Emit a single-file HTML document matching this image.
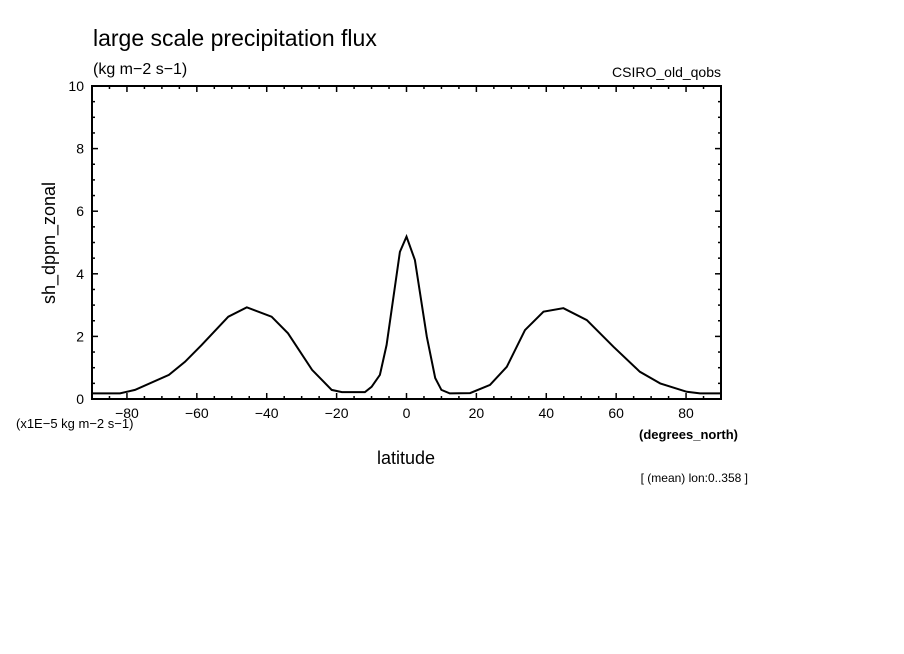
<!DOCTYPE html>
<html><head><meta charset="utf-8"><style>
body{margin:0;background:#fff;width:904px;height:654px;overflow:hidden}
svg{display:block}
text{font-family:"Liberation Sans",sans-serif;fill:#000}
</style></head><body>
<svg id="chart" width="904" height="654" xmlns="http://www.w3.org/2000/svg">
<text x="93" y="46" font-size="23">large scale precipitation flux</text>
<text x="93" y="74" font-size="16">(kg m−2 s−1)</text>
<text x="721" y="77" font-size="14" text-anchor="end">CSIRO_old_qobs</text>
<text transform="translate(55,243) rotate(-90)" font-size="18" text-anchor="middle">sh_dppn_zonal</text>
<text x="16" y="428" font-size="13">(x1E−5 kg m−2 s−1)</text>
<text x="738" y="439" font-size="13" font-weight="bold" text-anchor="end">(degrees_north)</text>
<text x="406" y="464" font-size="18" text-anchor="middle">latitude</text>
<text x="748" y="482" font-size="12" text-anchor="end">[ (mean) lon:0..358 ]</text>
<g id="axes"></g>
<path id="line" fill="none" stroke="#000" stroke-width="2"/>
<rect x="92" y="86" width="629" height="313" fill="none" stroke="#000" stroke-width="2"/>
</svg>
<script>
const lats=[-90,-82,-77.7,-68,-63.4,-58.6,-51,-45.7,-38.6,-33.9,-27,-21.4,-18.5,-11.9,-10,-7.6,-5.7,-1.9,0,2.4,5.8,8.2,10,12.4,18.2,23.9,28.7,33.9,39.2,44.9,51.6,59.2,66.8,72.6,80.2,84,90];
const vals=[0.18,0.18,0.29,0.77,1.19,1.73,2.63,2.93,2.63,2.1,0.93,0.29,0.22,0.22,0.39,0.77,1.73,4.7,5.19,4.44,1.99,0.67,0.29,0.18,0.19,0.45,1.03,2.2,2.79,2.9,2.52,1.67,0.87,0.5,0.23,0.18,0.18];
const xTicks=[-80,-60,-40,-20,0,20,40,60,80];
const yTicks=[0,2,4,6,8,10];
const X0=92,X1=721,Y0=399,Y1=86;
const sx=v=>X0+(v+90)/180*(X1-X0);
const sy=v=>Y0-(v/10)*(Y0-Y1);
const ns="http://www.w3.org/2000/svg";
const ax=document.getElementById('axes');
function ln(x1,y1,x2,y2,name){const l=document.createElementNS(ns,'line');
l.setAttribute('x1',x1);l.setAttribute('y1',y1);l.setAttribute('x2',x2);l.setAttribute('y2',y2);
l.setAttribute('stroke','#000');l.setAttribute('stroke-width','1.5');


ax.appendChild(l);}
function tx(x,y,s,anchor,name){const t=document.createElementNS(ns,'text');
t.setAttribute('x',x);t.setAttribute('y',y);t.setAttribute('font-size','14');t.setAttribute('text-anchor',anchor);t.textContent=s;


ax.appendChild(t);}
for(let v=-85;v<90;v+=5){const maj=v%20===0;const L=maj?6:3;const x=sx(v);
ln(x,Y0,x,Y0-L,'x-tick');ln(x,Y1,x,Y1+L,'x-tick-top');}
for(let v=0.5;v<10;v+=0.5){const maj=Math.abs(v%2)<1e-6;const L=maj?6:3;const y=sy(v);
ln(X0,y,X0+L,y,'y-tick');ln(X1,y,X1-L,y,'y-tick-right');}
xTicks.forEach(v=>tx(sx(v),418,v<0?'−'+(-v):String(v),'middle','x-tick-label'));
yTicks.forEach(v=>tx(84,sy(v)+5,String(v),'end','y-tick-label'));
document.getElementById('line').setAttribute('d',lats.map((l,i)=>(i?'L':'M')+sx(l).toFixed(1)+','+sy(vals[i]).toFixed(1)).join(''));
</script>
</body></html>
